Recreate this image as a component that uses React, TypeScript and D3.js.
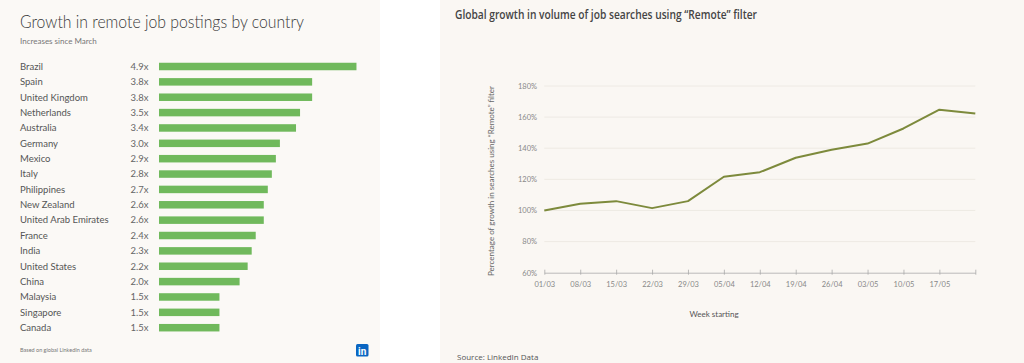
import React, { useEffect, useRef } from 'react';
import * as d3 from 'd3';

// left panel data
const countries = [
  'Brazil', 'Spain', 'United Kingdom', 'Netherlands', 'Australia', 'Germany',
  'Mexico', 'Italy', 'Philippines', 'New Zealand', 'United Arab Emirates', 'France',
  'India', 'United States', 'China', 'Malaysia', 'Singapore', 'Canada',
];
const growth = [4.9, 3.8, 3.8, 3.5, 3.4, 3.0, 2.9, 2.8, 2.7, 2.6, 2.6, 2.4, 2.3, 2.2, 2.0, 1.5, 1.5, 1.5];

// right panel data
const weekLabels = ['01/03', '08/03', '15/03', '22/03', '29/03', '05/04', '12/04', '19/04', '26/04', '03/05', '10/05', '17/05', ''];
const searchGrowth = [100, 104.3, 106, 101.5, 106, 121.7, 124.6, 133.9, 139, 143, 152.7, 164.8, 162.4];
const yTicks = [60, 80, 100, 120, 140, 160, 180];

const W = 1024;
const H = 363;

const App = () => {
  const ref = useRef<SVGSVGElement>(null);

  useEffect(() => {
    const svg = d3.select(ref.current);
    svg.selectAll('*').remove();

    const leftFont = 'Lato, "Open Sans", sans-serif';
    const rightFont = '"Open Sans", Roboto, sans-serif';

    // backgrounds
    svg.append('rect').attr('width', W).attr('height', H).attr('fill', '#ffffff');
    svg.append('rect').attr('x', 0).attr('y', 0).attr('width', 380).attr('height', H).attr('fill', '#fbf9f6');
    svg.append('rect').attr('x', 440).attr('y', 0).attr('width', W - 440).attr('height', H).attr('fill', '#faf7f3');

    // ---------- left: bar chart ----------
    svg.append('text')
      .attr('x', 20).attr('y', 28)
      .attr('textLength', 284).attr('lengthAdjust', 'spacingAndGlyphs')
      .style('font-family', leftFont).style('font-weight', 300)
      .style('font-size', '17.5px').style('fill', '#3a3a3a')
      .text('Growth in remote job postings by country');

    svg.append('text')
      .attr('x', 20).attr('y', 44)
      .style('font-family', leftFont).style('font-size', '8px').style('fill', '#777')
      .text('Increases since March');

    const xBar = d3.scaleLinear().domain([0, 5]).range([159, 159 + 201.5]);
    const yBar = d3.scalePoint<string>().domain(countries).range([66.5, 327.7]);
    const barH = 7.5;

    const rows = svg.append('g').selectAll('g').data(countries).join('g');

    rows.append('text')
      .attr('x', 20).attr('y', (d) => (yBar(d) as number) + 3.3)
      .style('font-family', leftFont).style('font-size', '9.5px').style('fill', '#555')
      .text((d) => d);

    rows.append('text')
      .attr('x', 130.5).attr('y', (d) => (yBar(d) as number) + 3.3)
      .style('font-family', leftFont).style('font-size', '9.5px').style('fill', '#666')
      .text((d, i) => growth[i].toFixed(1) + 'x');

    rows.append('rect')
      .attr('x', xBar(0))
      .attr('y', (d) => (yBar(d) as number) - barH / 2)
      .attr('width', (d, i) => xBar(growth[i]) - xBar(0))
      .attr('height', barH)
      .attr('fill', '#70b95c');

    svg.append('text')
      .attr('x', 20).attr('y', 352)
      .style('font-family', leftFont).style('font-size', '5.5px').style('fill', '#777')
      .text('Based on global LinkedIn data');

    // linkedin logo
    svg.append('rect').attr('x', 356).attr('y', 344).attr('width', 12.5).attr('height', 12.5)
      .attr('rx', 1.5).attr('fill', '#0a66c2');
    svg.append('text')
      .attr('x', 362.2).attr('y', 354.5).attr('text-anchor', 'middle')
      .style('font-family', 'Roboto, sans-serif').style('font-weight', 700)
      .style('font-size', '10px').style('fill', '#fff')
      .text('in');

    // ---------- right: line chart ----------
    svg.append('text')
      .attr('x', 455).attr('y', 19)
      .attr('textLength', 302).attr('lengthAdjust', 'spacingAndGlyphs')
      .style('font-family', rightFont).style('font-weight', 600)
      .style('font-size', '12.5px').style('fill', '#444')
      .text('Global growth in volume of job searches using \u201cRemote\u201d filter');

    const x = d3.scaleLinear().domain([0, weekLabels.length - 1]).range([544.3, 975.3]);
    const y = d3.scaleLinear().domain([60, 180]).range([272.7, 86]);

    // gridlines
    svg.append('g').selectAll('line').data(yTicks.slice(1)).join('line')
      .attr('x1', x(0)).attr('x2', x(weekLabels.length - 1))
      .attr('y1', (d) => y(d)).attr('y2', (d) => y(d))
      .attr('stroke', '#ebe7e0').attr('stroke-width', 0.8);

    // y labels
    svg.append('g').selectAll('text').data(yTicks).join('text')
      .attr('x', 537).attr('y', (d) => y(d) + 2.8)
      .attr('text-anchor', 'end')
      .style('font-family', leftFont).style('font-size', '7.5px').style('fill', '#888')
      .text((d) => d + '%');

    // x axis
    const xAxis = d3.axisBottom(x)
      .tickValues(d3.range(weekLabels.length))
      .tickFormat((d) => weekLabels[d as number])
      .tickSizeInner(4)
      .tickSizeOuter(0);

    const gx = svg.append('g').attr('class', 'x-axis')
      .attr('transform', `translate(0,${y(60)})`)
      .call(xAxis);
    gx.select('.domain').attr('stroke', '#aaa').attr('stroke-width', 0.8);
    gx.selectAll('.tick line').attr('stroke', '#aaa').attr('stroke-width', 0.8)
      .attr('y1', -3).attr('y2', 2);
    gx.selectAll('.tick text')
      .attr('y', 9)
      .style('font-family', leftFont).style('font-size', '7.5px').style('fill', '#888');

    // line
    const line = d3.line<number>()
      .x((d, i) => x(i))
      .y((d) => y(d));

    svg.append('path')
      .datum(searchGrowth)
      .attr('d', line)
      .attr('fill', 'none')
      .attr('stroke', '#7d8a3c')
      .attr('stroke-width', 2)
      .attr('stroke-linejoin', 'round');

    // axis titles
    svg.append('text')
      .attr('transform', `translate(494,181) rotate(-90)`)
      .attr('text-anchor', 'middle')
      .style('font-family', leftFont).style('font-size', '8px').style('fill', '#666')
      .text('Percentage of growth in searches using \u201cRemote\u201d filter');

    svg.append('text')
      .attr('x', 714).attr('y', 317)
      .attr('text-anchor', 'middle')
      .style('font-family', leftFont).style('font-size', '8px').style('fill', '#555')
      .text('Week starting');

    svg.append('text')
      .attr('x', 457).attr('y', 360)
      .style('font-family', rightFont).style('font-size', '8px').style('fill', '#555')
      .text('Source: LinkedIn Data');
  }, []);

  return (
    <div style={{ position: 'fixed', left: 0, top: 0 }}>
      <svg ref={ref} width={W} height={H} style={{ display: 'block' }} />
    </div>
  );
};

export default App;
